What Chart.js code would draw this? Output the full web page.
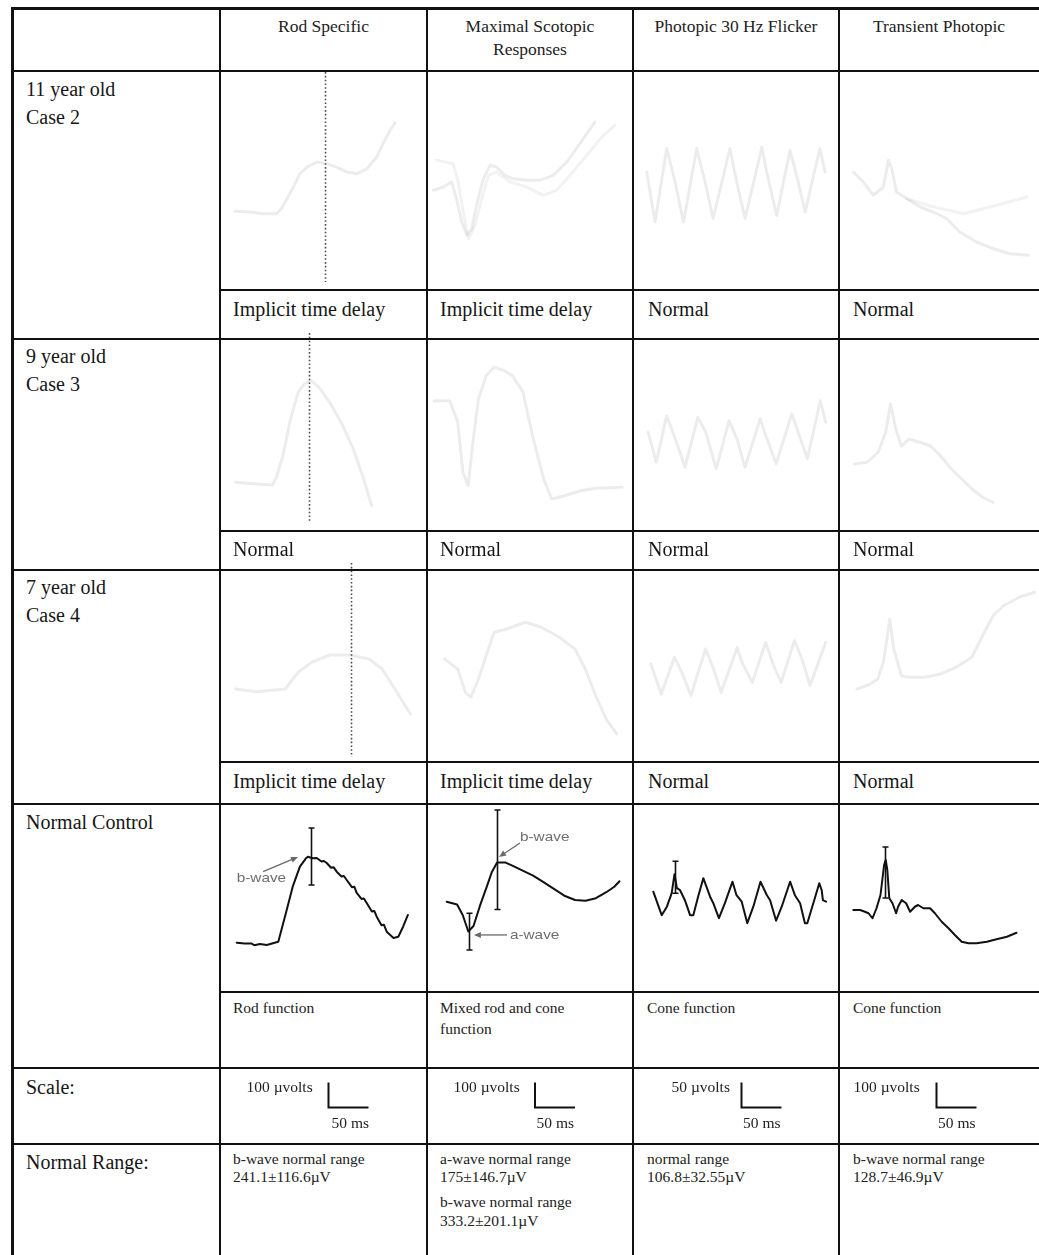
<!DOCTYPE html>
<html><head><meta charset="utf-8">
<script src="https://cdn.jsdelivr.net/npm/chart.js@4.4.1/dist/chart.umd.min.js"></script>
<style>
html,body{margin:0;padding:0;background:#fff;}
#page{position:relative;width:1039px;height:1255px;overflow:hidden;background:#fff;}
.ln{position:absolute;background:#111;z-index:5;}
.tx{position:absolute;font-family:"Liberation Serif","Times New Roman",serif;color:#161616;white-space:pre;z-index:6;}
canvas{position:absolute;z-index:2;}
</style></head><body><div id="page"></div>
<script>
// ---------------- DATA ----------------
const protocols = ['Rod Specific', 'Maximal Scotopic\nResponses', 'Photopic 30 Hz Flicker', 'Transient Photopic'];
const subjectLabels = ['11 year old\nCase 2', '9 year old\nCase 3', '7 year old\nCase 4', 'Normal Control'];
const case2Findings = ['Implicit time delay', 'Implicit time delay', 'Normal', 'Normal'];
const case3Findings = ['Normal', 'Normal', 'Normal', 'Normal'];
const case4Findings = ['Implicit time delay', 'Implicit time delay', 'Normal', 'Normal'];
const controlFunctions = ['Rod function', 'Mixed rod and cone\nfunction', 'Cone function', 'Cone function'];
const scaleRowLabel = 'Scale:';
const rangeRowLabel = 'Normal Range:';
const scaleAmplitudeUv = [100, 100, 50, 100];
const scaleTimeMs = 50;
const normalRangeText = [
  ['b-wave normal range\n241.1±116.6µV'],
  ['a-wave normal range\n175±146.7µV', 'b-wave normal range\n333.2±201.1µV'],
  ['normal range\n106.8±32.55µV'],
  ['b-wave normal range\n128.7±46.9µV']
];

// Case 2 (11 year old) — time in ms, amplitude in µV
const case2RodMs = [0,19,35,52,58,65,73,81,90,102,115,127,140,152,165,177,185,194,200];
const case2RodUv = [0,-3,-10,-10,10,50,97,150,177,197,190,177,157,150,170,217,270,324,354];
const case2RodImplicitMs = 113;
const case2RodMarkerUv = [-283, 557];
const case2MaxMs = [0,12.5,23,29,35.5,42,48,54,62.5,71,79,89.5,100,117,133,150,167,183,196,202];
const case2MaxUv = [0,13,33,-34,-127,-180,-154,-60,46,100,93,60,46,40,40,60,113,186,246,273];
const case2MaxRepeatMs = [4,25,31,37.5,44,52,60.5,69,79,96,117,137.5,154,171,192,212.5,227];
const case2MaxRepeatUv = [120,106,33,-87,-194,-140,-34,60,73,33,13,-20,0,60,140,220,260];
const case2FlickerMs = [0,10.5,25,35.5,46,62.5,73,83,104,112.5,123,144,150,162.5,179,187.5,198,216.5,223];
const case2FlickerUv = [0,-100,47,-20,-100,47,-20,-93,47,-20,-93,50,0,-87,43,-7,-80,47,0];
const case2TransMs = [0,12.5,25,37.5,44,48,54,67,83.5,100,117,133,154,175,196,219];
const case2TransUv = [0,-40,-93,-60,47,13,-80,-107,-140,-160,-187,-240,-280,-307,-327,-333];
const case2TransRepeatMs = [67,96,137.5,179,217];
const case2TransRepeatUv = [-107,-136,-167,-133,-100];

// Case 3 (9 year old)
const case3RodMs = [0,26,46,51,59,68.5,78,86,94.5,105,117.5,134,147,160,170];
const case3RodUv = [0,-7,-11,22,106,253,360,395,407,377,320,226,133,13,-94];
const case3RodImplicitMs = 91.6;
const case3RodMarkerUv = [-159, 597];
const case3MaxMs = [0,19.5,29.5,36,42.5,49,55.5,65,75,88,98,111,124,137,147,163,183,202,235];
const case3MaxUv = [0,0,-86,-286,-340,-153,7,100,134,120,100,35,-153,-313,-393,-380,-360,-350,-346];
const case3FlickerMs = [0,10,23,32.5,46,62,72,85,101,111,121,140,147,160,179.5,189,199,215,222];
const case3FlickerUv = [0,-60,33,-7,-70,30,0,-73,23,-13,-70,27,-7,-63,37,-7,-53,63,20];
const case3TransMs = [0,16,29.5,39,45,52,58.5,68.5,81.5,94.5,107.5,121,134,147,160,173];
const case3TransUv = [0,7,47,127,240,136,72,100,87,73,33,-20,-60,-100,-133,-153];

// Case 4 (7 year old)
const case4RodMs = [0,26,62,78,95,117.5,143.5,166.5,183,199,212,218.5];
const case4RodUv = [0,-11,0,67,107,136,136,120,80,0,-67,-100];
const case4RodImplicitMs = 143.6;
const case4RodMarkerUv = [-272, 504];
const case4MaxMs = [0,16.5,26,33,42.5,52,62,78,101,121,143.5,163,176,189,202,215.5];
const case4MaxUv = [0,-40,-133,-153,-80,13,107,120,147,127,87,40,-40,-147,-240,-300];
const case4FlickerMs = [0,13,29.5,39,50,68.5,78.5,88,108,114,127,143.5,153.5,163,179.5,189,199,218.5];
const case4FlickerUv = [0,-60,13,-17,-63,30,-10,-57,33,3,-37,43,-3,-37,47,10,-43,43];
const case4TransMs = [0,16.5,26,33,41,46,55.5,65.5,85,104.5,124,143.5,157,170,183,202.5,222];
const case4TransUv = [0,20,40,107,280,160,53,47,47,60,87,127,213,293,333,367,387];

// Normal control
const controlRodMs = [0,10,18,22,29,37.5,52,62.5,70,79,87,89,95,100,106,109,112.5,118,121,125,131,134,137.5,144,147,150,156,159,162.5,169,172,175,181,184,187.5,196,202,208,214];
const controlRodUv = [0,-3,-3,-10,-5,-9,4,131,224,304,339,344,338,339,325,327,319,300,302,284,265,267,251,222,224,199,175,177,159,125,127,104,70,72,44,19,24,64,111];
const controlMaxMs = [0,13,20,27,33.5,41.5,50,56.5,63,73,82,95,108,121,134,147,160.5,173.5,186.5,199.5,209.5,216];
const controlMaxUv = [0,-11,-53,-119,-97,-17,59,119,157,157,144,124,104,78,51,24,7,4,14,38,60,82];
const controlFlickerMs = [0,10.5,17,23,26.5,29.5,33.5,39.5,46,50,56,62.5,71,75,82,89.5,99,104,110.5,117.5,125,134,142,146,153.5,160.5,171,177,183.5,189.5,192.5,200,207.5,210.5,212,216];
const controlFlickerUv = [0,-47,-30,-3,35,7,3,-17,-47,-47,-10,27,-10,-23,-53,-23,20,-7,-20,-63,-30,20,-7,-17,-58,-30,20,-7,-23,-63,-63,-23,17,3,-17,-20];
const controlTransMs = [0,8.5,14.5,19,24,29,34,38.5,40.5,42.5,45,49,53.5,56,60.5,66,71,77,81,87.5,96,102,110.5,119,127,135.5,144,154,167,179,192,204];
const controlTransUv = [0,0,-7,-13,-33,7,60,180,200,160,47,27,-13,13,40,27,-7,13,20,7,7,-13,-47,-73,-100,-127,-133,-133,-127,-117,-107,-91];

// Normal control amplitude markers (I-bars): time ms, [low, high] µV
const controlRodBMs = 92.5, controlRodBRangeUv = [231, 459];
const controlMaxBMs = 63, controlMaxBRangeUv = [-31, 367];
const controlMaxAMs = 28.5, controlMaxARangeUv = [-193, -46];
const controlFlickerMs1 = 27, controlFlickerRangeUv = [-3, 61];
const controlTransBMs = 40, controlTransBRangeUv = [48, 252];

// ---------------- LAYOUT ----------------
const COLS = [12.5, 220, 427, 633, 839, 1039];
const WAVE_ROWS = [[72,289],[340,530],[570,761],[805,991]];
const ORIGINS = [
  [[235,211.3],[433.3,190.3],[646.7,172],[853.3,172]],
  [[235.7,482.3],[434.1,400.7],[648.2,432.3],[854.5,464]],
  [[235.7,689],[444.5,659],[650.8,664],[857,689]],
  [[236.7,942.7],[446.7,901.7],[653.3,891.7],[853.3,910]]
];
const PX_PER_MS = 0.8;
const PX_PER_UV = [0.25, 0.25, 0.5, 0.25];
const FAINT = 'rgba(0,0,0,0.075)', FAINTER = 'rgba(0,0,0,0.05)', INK = '#111';

const page = document.getElementById('page');
function line(l, t, w, h) {
  const d = document.createElement('div'); d.className = 'ln';
  Object.assign(d.style, {left: l+'px', top: t+'px', width: w+'px', height: h+'px'});
  page.appendChild(d);
}
function text(str, l, t, size, lh, extra) {
  const d = document.createElement('div'); d.className = 'tx';
  d.textContent = str;
  Object.assign(d.style, {left: l+'px', top: t+'px', fontSize: size+'px', lineHeight: lh+'px'}, extra || {});
  page.appendChild(d);
}

// grid lines
line(11, 7, 3, 1248);
[220, 427, 633, 839].forEach(x => line(x-1, 8, 2, 1247));
line(11, 7, 1028, 3);
[71, 338.5, 569.5, 804, 1068, 1144].forEach(y => line(11, Math.round(y-1), 1028, 2));
[290, 531, 762, 992].forEach(y => line(219, y-1, 820, 2));

// header
protocols.forEach((p, i) => {
  text(p, COLS[i+1], 15, 17.5, 23, {width: (COLS[i+2]-COLS[i+1])+'px', textAlign: 'center', color:'#222'});
});
// row labels
const rowLabelTops = [75, 342, 573, 808];
subjectLabels.forEach((s, i) => text(s, 26, rowLabelTops[i], 20, 28));
text(scaleRowLabel, 26, 1073, 20, 28);
text(rangeRowLabel, 26, 1148, 20, 28);
// findings
const findLeft = [233, 440, 648, 853];
[[case2Findings, 295], [case3Findings, 535], [case4Findings, 767]].forEach(([arr, top]) => {
  arr.forEach((f, i) => text(f, findLeft[i], top, 20, 28));
});
const smallLeft = [233, 440, 647, 853];
controlFunctions.forEach((f, i) => text(f, smallLeft[i], 998, 15.5, 20.7, {color:'#222'}));
// scale labels
const voltLeft = [246.5, 453.5, 671.5, 853.5];
const msLeft = [331.5, 536.5, 743, 938];
scaleAmplitudeUv.forEach((a, i) => {
  text(a + ' µvolts', voltLeft[i], 1077.5, 15.5, 18.3, {color:'#222'});
  text(scaleTimeMs + ' ms', msLeft[i], 1113.5, 15.5, 18.3, {color:'#222'});
});
normalRangeText.forEach((blocks, i) => {
  blocks.forEach((b, j) => text(b, smallLeft[i], 1150 + j*43.3, 15.5, 18.3, {color:'#222'}));
});

// ---------------- CHARTS ----------------
function overlay(spec) {
  return {
    id: 'overlay',
    afterDatasetsDraw(chart) {
      const ctx = chart.ctx, xs = chart.scales.x, ys = chart.scales.y;
      ctx.save();
      (spec.markers || []).forEach(m => {
        const x = Math.round(xs.getPixelForValue(m.ms)) + 0.5;
        ctx.strokeStyle = '#4a4a4a'; ctx.lineWidth = 1.6; ctx.setLineDash([1.6, 2.2]);
        ctx.beginPath(); ctx.moveTo(x, ys.getPixelForValue(m.uv[1])); ctx.lineTo(x, ys.getPixelForValue(m.uv[0])); ctx.stroke();
      });
      ctx.setLineDash([]);
      (spec.bars || []).forEach(b => {
        const x = Math.round(xs.getPixelForValue(b.ms)) + 0.5;
        const y1 = ys.getPixelForValue(b.uv[1]), y0 = ys.getPixelForValue(b.uv[0]);
        ctx.strokeStyle = INK; ctx.lineWidth = 1.6;
        ctx.beginPath();
        ctx.moveTo(x, y1); ctx.lineTo(x, y0);
        ctx.moveTo(x-3, y1); ctx.lineTo(x+3, y1);
        ctx.moveTo(x-3, y0); ctx.lineTo(x+3, y0);
        ctx.stroke();
      });
      (spec.arrows || []).forEach(a => {
        const x0 = xs.getPixelForValue(a.from[0]), y0 = ys.getPixelForValue(a.from[1]);
        const x1 = xs.getPixelForValue(a.to[0]), y1 = ys.getPixelForValue(a.to[1]);
        const ang = Math.atan2(y1-y0, x1-x0);
        ctx.strokeStyle = '#6a6a6a'; ctx.fillStyle = '#6a6a6a'; ctx.lineWidth = 1.3;
        ctx.beginPath(); ctx.moveTo(x0, y0); ctx.lineTo(x1 - 5*Math.cos(ang), y1 - 5*Math.sin(ang)); ctx.stroke();
        ctx.beginPath();
        ctx.moveTo(x1, y1);
        ctx.lineTo(x1 - 7*Math.cos(ang) + 3*Math.sin(ang), y1 - 7*Math.sin(ang) - 3*Math.cos(ang));
        ctx.lineTo(x1 - 7*Math.cos(ang) - 3*Math.sin(ang), y1 - 7*Math.sin(ang) + 3*Math.cos(ang));
        ctx.closePath(); ctx.fill();
      });
      (spec.labels || []).forEach(t => {
        const x = xs.getPixelForValue(t.at[0]), y = ys.getPixelForValue(t.at[1]);
        ctx.fillStyle = '#6e6e6e'; ctx.font = '13px "Liberation Sans", Arial, sans-serif';
        ctx.textBaseline = 'middle'; ctx.textAlign = 'left';
        ctx.save(); ctx.translate(x, y); ctx.scale(1.18, 1); ctx.fillText(t.text, 0, 0); ctx.restore();
      });
      ctx.restore();
    }
  };
}

function makeChart(left, top, width, height, origin, pxUv, datasets, spec) {
  const cv = document.createElement('canvas');
  cv.width = width; cv.height = height;
  cv.style.left = left + 'px'; cv.style.top = top + 'px';
  page.appendChild(cv);
  const xmin = -(origin[0] - left) / PX_PER_MS;
  const ymax = (origin[1] - top) / pxUv;
  new Chart(cv, {
    type: 'line',
    data: { datasets },
    options: {
      responsive: false, animation: false, devicePixelRatio: 1, events: [],
      layout: { padding: 0 },
      plugins: { legend: { display: false }, tooltip: { enabled: false } },
      scales: {
        x: { type: 'linear', display: false, min: xmin, max: xmin + width / PX_PER_MS },
        y: { type: 'linear', display: false, min: ymax - height / pxUv, max: ymax }
      },
      elements: { point: { radius: 0 }, line: { tension: 0, borderJoinStyle: 'round', borderCapStyle: 'round' } }
    },
    plugins: [overlay(spec || {})]
  });
}
function series(ms, uv, color, width) {
  return { data: ms.map((t, i) => ({ x: t, y: uv[i] })), borderColor: color, borderWidth: width, fill: false, clip: false };
}

const panels = [
  {row:0, col:0, ds:[series(case2RodMs, case2RodUv, FAINT, 3)], spec:{markers:[{ms:case2RodImplicitMs, uv:case2RodMarkerUv}]}},
  {row:0, col:1, ds:[series(case2MaxMs, case2MaxUv, FAINT, 3), series(case2MaxRepeatMs, case2MaxRepeatUv, FAINTER, 3)]},
  {row:0, col:2, ds:[series(case2FlickerMs, case2FlickerUv, FAINT, 3)]},
  {row:0, col:3, ds:[series(case2TransMs, case2TransUv, FAINT, 3), series(case2TransRepeatMs, case2TransRepeatUv, FAINTER, 3)]},
  {row:1, col:0, ds:[series(case3RodMs, case3RodUv, FAINT, 3)], spec:{markers:[{ms:case3RodImplicitMs, uv:case3RodMarkerUv}]}},
  {row:1, col:1, ds:[series(case3MaxMs, case3MaxUv, FAINT, 3)]},
  {row:1, col:2, ds:[series(case3FlickerMs, case3FlickerUv, FAINT, 3)]},
  {row:1, col:3, ds:[series(case3TransMs, case3TransUv, FAINT, 3)]},
  {row:2, col:0, ds:[series(case4RodMs, case4RodUv, FAINT, 3)], spec:{markers:[{ms:case4RodImplicitMs, uv:case4RodMarkerUv}]}},
  {row:2, col:1, ds:[series(case4MaxMs, case4MaxUv, FAINT, 3)]},
  {row:2, col:2, ds:[series(case4FlickerMs, case4FlickerUv, FAINT, 3)]},
  {row:2, col:3, ds:[series(case4TransMs, case4TransUv, FAINT, 3)]},
  {row:3, col:0, ds:[series(controlRodMs, controlRodUv, INK, 2)], spec:{
    bars:[{ms:controlRodBMs, uv:controlRodBRangeUv}],
    arrows:[{from:[33, 284], to:[76.6, 343]}],
    labels:[{text:'b-wave', at:[0, 258]}]}},
  {row:3, col:1, ds:[series(controlMaxMs, controlMaxUv, INK, 2)], spec:{
    bars:[{ms:controlMaxBMs, uv:controlMaxBRangeUv}, {ms:controlMaxAMs, uv:controlMaxARangeUv}],
    arrows:[{from:[91.6, 235], to:[65.4, 179]}, {from:[75.4, -133], to:[34, -133]}],
    labels:[{text:'b-wave', at:[91.6, 259]}, {text:'a-wave', at:[79, -133]}]}},
  {row:3, col:2, ds:[series(controlFlickerMs, controlFlickerUv, INK, 2)], spec:{
    bars:[{ms:controlFlickerMs1, uv:controlFlickerRangeUv}]}},
  {row:3, col:3, ds:[series(controlTransMs, controlTransUv, INK, 2)], spec:{
    bars:[{ms:controlTransBMs, uv:controlTransBRangeUv}]}}
];
panels.forEach(p => {
  const left = COLS[p.col+1] + 1, width = Math.round(COLS[p.col+2] - COLS[p.col+1] - 2);
  const top = WAVE_ROWS[p.row][0] - 10, height = WAVE_ROWS[p.row][1] - WAVE_ROWS[p.row][0] + 10;
  makeChart(left, top, width, height, ORIGINS[p.row][p.col], PX_PER_UV[p.col], p.ds, p.spec);
});

// scale bars
const SCALE_CORNERS = [[328.5,1107.5],[535,1107.5],[741.5,1107.5],[936.5,1107.5]];
scaleAmplitudeUv.forEach((amp, i) => {
  const left = COLS[i+1] + 1, width = Math.round(COLS[i+2] - COLS[i+1] - 2);
  const ds = [{ data: [{x:0, y:amp}, {x:0, y:0}, {x:scaleTimeMs, y:0}], borderColor: INK, borderWidth: 2,
    borderJoinStyle: 'miter', borderCapStyle: 'butt', fill: false, clip: false }];
  makeChart(left, 1069, width, 74, SCALE_CORNERS[i], PX_PER_UV[i], ds, {});
});
</script></body></html>
